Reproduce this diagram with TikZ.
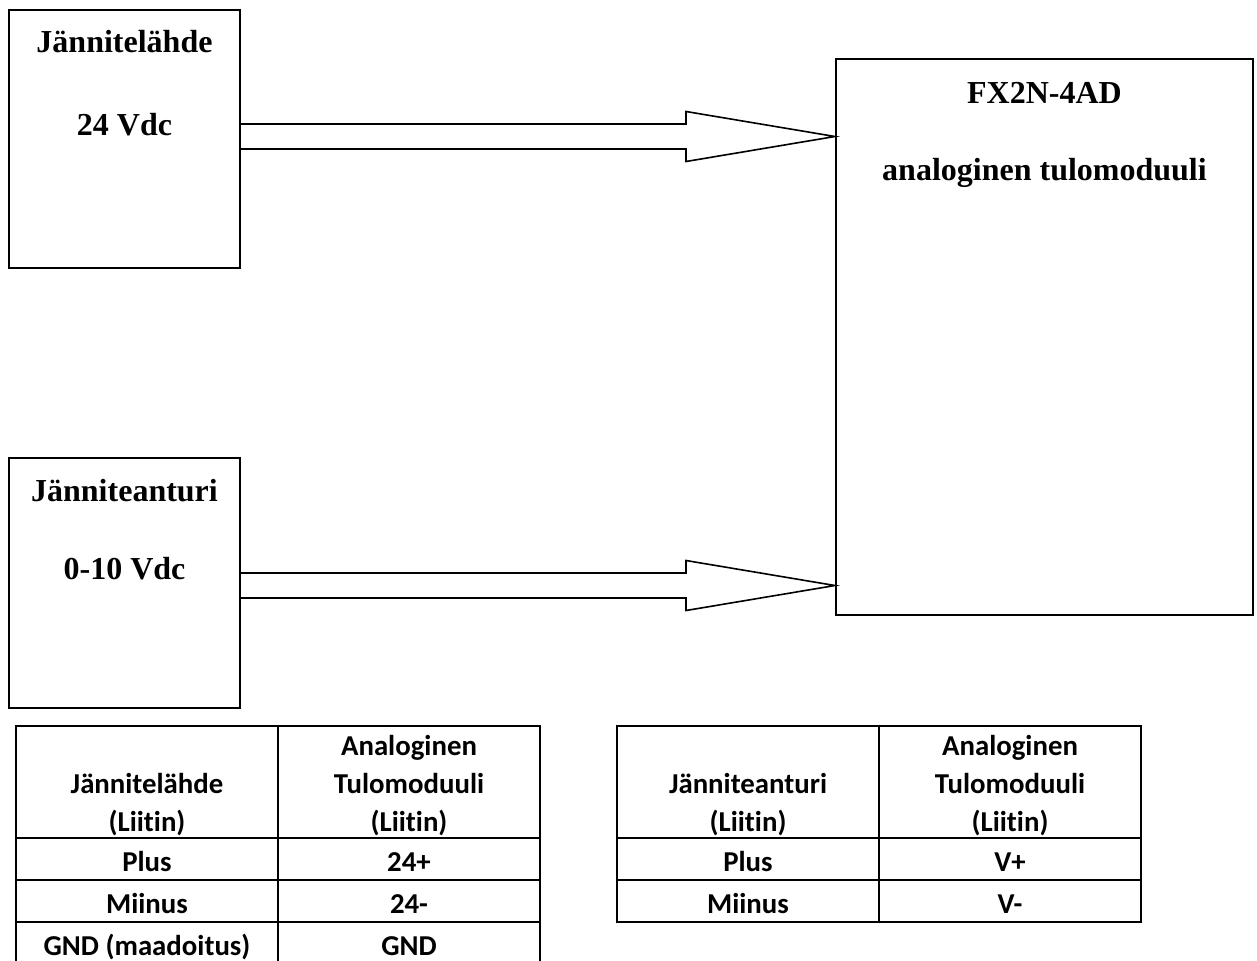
\documentclass[tikz,border=0pt]{standalone}
\usepackage{fontspec}
\setmainfont{Liberation Serif}
\newfontfamily\tablefont{Carlito}[Ligatures={NoCommon}]
\usepackage{tikz}
\usetikzlibrary{positioning, calc}

\newcommand{\feedarrow}[2]{%
  \draw[wire] ($(#1)+(0,-12.5)$) -- ($(#2)+(-149,-12.5)$) -- ++(0,-12.5) -- (#2)
    -- ++(-149,25) -- ++(0,-12.5) -- ($(#1)+(0,12.5)$);}

\begin{document}
\begin{tikzpicture}[
  x=0.5pt, y=-0.5pt,
  node distance=0pt,
  box/.style={rectangle, draw, line width=1pt, anchor=north west, inner sep=0pt,
              minimum width=115.5pt, minimum height=129pt},
  title/.style={font=\fontsize{16}{19}\selectfont\bfseries},
  wire/.style={line width=0.8pt, line join=miter},
  cell/.style={rectangle, draw, line width=1pt, outer sep=0pt, inner sep=0pt, align=center,
               minimum width=131pt, minimum height=21pt, text height=12.5pt, text depth=0.5pt,
               font=\tablefont\fontsize{14.4}{19}\selectfont\bfseries},
  head/.style={cell, minimum height=56pt, text height={}, text depth={}}
]
  \useasboundingbox (0,0) rectangle (1257,960);

  \node[box] (lahde) at (8,9) {};
  \node[box, minimum height=125pt] (anturi) at (8,457) {};
  \node[box, minimum width=208.5pt, minimum height=278pt] (fx) at (835,58) {};

  \node[title] at ($(lahde.north)+(0,33)$) {Jännitelähde};
  \node[title] at ($(lahde.north)+(0,116)$) {24 Vdc};
  \node[title] at ($(anturi.north)+(0,34)$) {Jänniteanturi};
  \node[title] at ($(anturi.north)+(0,112)$) {0-10 Vdc};
  \node[title] at ($(fx.north)+(0,35)$) {FX2N-4AD};
  \node[title] at ($(fx.north)+(0,115)$) {analoginen tulomoduuli};

  \coordinate (out1) at ($(lahde.east)+(0,-2.5)$);
  \coordinate (out2) at ($(anturi.east)+(0,2.5)$);
  \feedarrow{out1}{out1 -| fx.west}
  \feedarrow{out2}{out2 -| fx.west}

  % liitintaulukot
  \node[head, anchor=north west] (t1a) at (16,726) {\strut\\Jännitelähde\\(Liitin)};
  \node[head, right=of t1a] (t1b) {\strut Analoginen\\Tulomoduuli\\(Liitin)};
  \node[cell, below=of t1a] (t1c) {Plus};
  \node[cell, below=of t1b] (t1d) {24+};
  \node[cell, below=of t1c] (t1e) {Miinus};
  \node[cell, below=of t1d] (t1f) {24-};
  \node[cell, below=of t1e] (t1g) {GND (maadoitus)};
  \node[cell, below=of t1f] (t1h) {GND};

  \node[head, anchor=north west] (t2a) at (617,726) {\strut\\Jänniteanturi\\(Liitin)};
  \node[head, right=of t2a] (t2b) {\strut Analoginen\\Tulomoduuli\\(Liitin)};
  \node[cell, below=of t2a] (t2c) {Plus};
  \node[cell, below=of t2b] (t2d) {V+};
  \node[cell, below=of t2c] (t2e) {Miinus};
  \node[cell, below=of t2d] (t2f) {V-};
\end{tikzpicture}
\end{document}
